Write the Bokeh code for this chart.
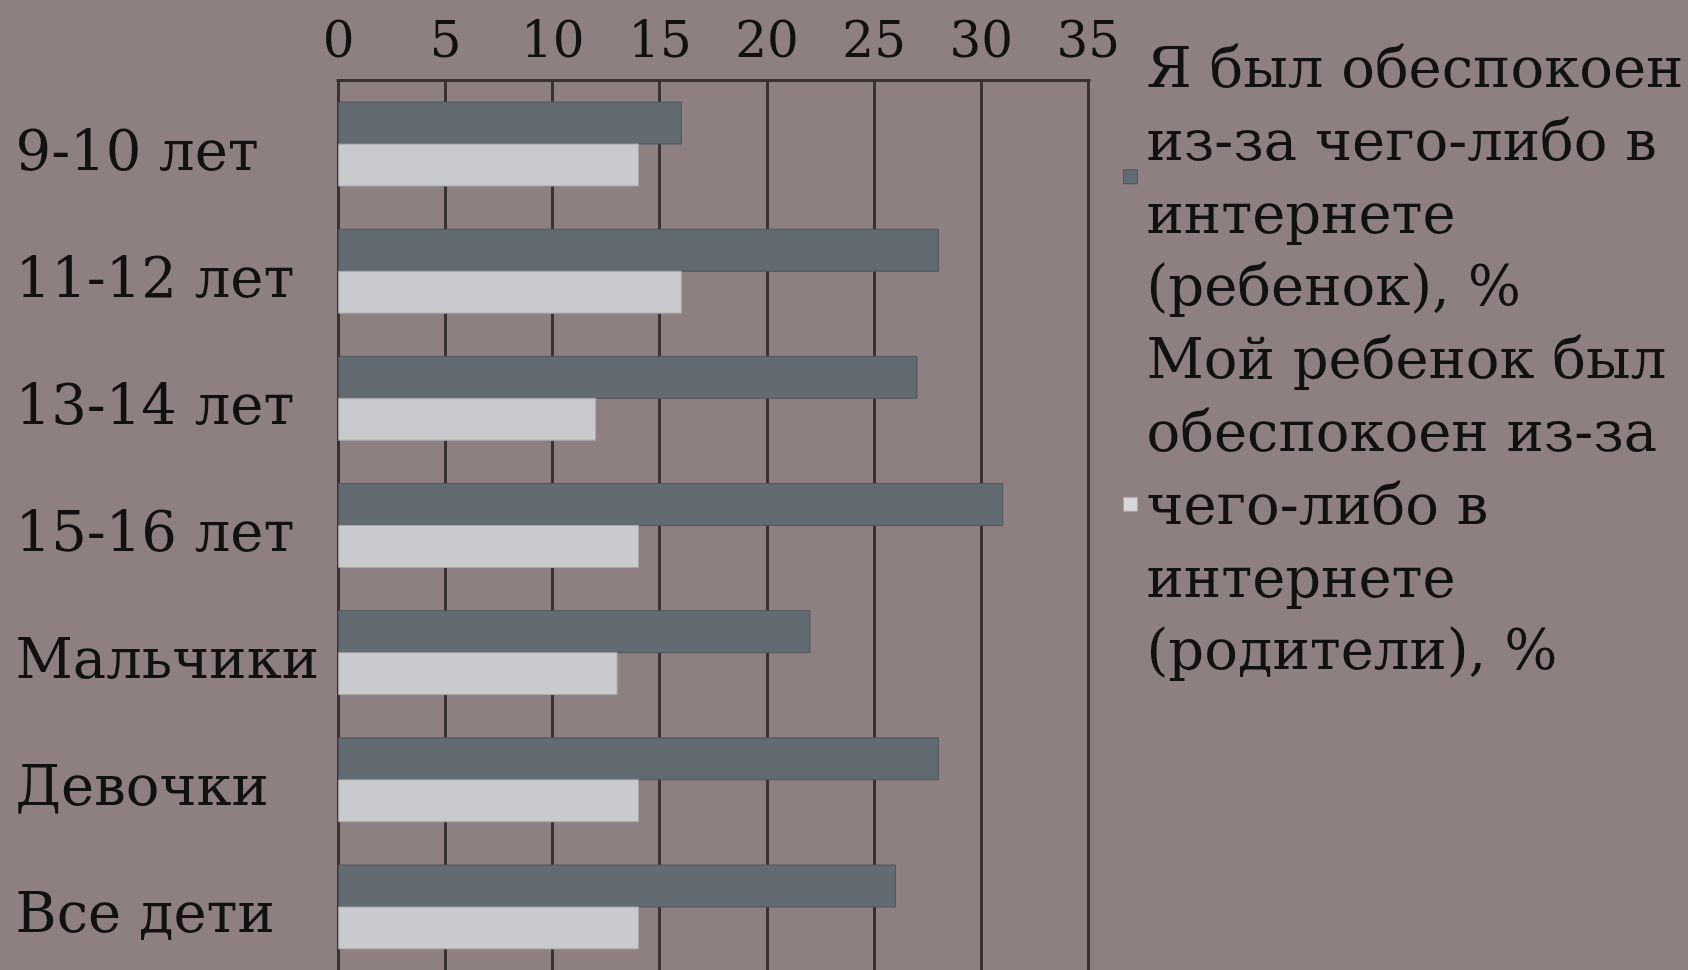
from bokeh.plotting import figure
from bokeh.layouts import row
from bokeh.models import ColumnDataSource, Range1d, FactorRange, FixedTicker
from bokeh.transform import dodge
from bokeh.core.properties import value
from bokeh.embed import file_html
from bokeh.resources import INLINE

categories = ["9-10 лет", "11-12 лет", "13-14 лет", "15-16 лет", "Мальчики", "Девочки", "Все дети"]
child_values = [16, 28, 27, 31, 22, 28, 26]
parent_values = [14, 16, 12, 14, 13, 14, 14]
x_ticks = [0, 5, 10, 15, 20, 25, 30, 35]
series_labels = ["Я был обеспокоен\nиз-за чего-либо в\nинтернете\n(ребенок), %",
                 "Мой ребенок был\nобеспокоен из-за\nчего-либо в\nинтернете\n(родители), %"]

BG = "#8E7F80"
GRID = "#3A3232"
FONT = "DejaVu Serif"
TEXT = "#111111"
DARK = "#626A72"
DARK_LINE = "#50565C"
LIGHT = "#C9CACD"
LIGHT_LINE = "#A5A5A8"
series_fill = [DARK, "#D6D7D9"]
series_line = [DARK_LINE, LIGHT_LINE]
H = 970
TOP = 80


def style(fig):
    fig.background_fill_color = None
    fig.border_fill_color = BG
    fig.outline_line_color = None


src = ColumnDataSource(dict(cat=categories, child=child_values, parent=parent_values,
                            zero=[0] * len(categories)))
y_range = FactorRange(factors=list(reversed(categories)))

# left strip: category labels, left-aligned
lp = figure(width=320, height=H, output_backend="svg", toolbar_location=None,
            y_range=y_range, x_range=Range1d(0, 1),
            min_border_left=0, min_border_right=0, min_border_top=TOP, min_border_bottom=0)
style(lp)
lp.xaxis.visible = False
lp.yaxis.visible = False
lp.grid.visible = False
lp.text(x="zero", y="cat", text="cat", source=src, x_offset=15, y_offset=6,
        text_align="left", text_baseline="middle",
        text_font=value(FONT), text_font_size="56px", text_color=TEXT)

# main bar chart
p = figure(width=800, height=H, output_backend="svg", toolbar_location=None,
           y_range=y_range, x_range=Range1d(-0.1, 35.1), x_axis_location="above",
           min_border_left=16, min_border_right=30, min_border_top=TOP, min_border_bottom=0)
style(p)

p.hbar(y=dodge("cat", 0.165, range=p.y_range), right="child", left=0, height=0.33,
       source=src, fill_color=DARK, line_color=DARK_LINE, line_width=1)
p.hbar(y=dodge("cat", -0.165, range=p.y_range), right="parent", left=0, height=0.33,
       source=src, fill_color=LIGHT, line_color=LIGHT_LINE, line_width=1)

p.xaxis.ticker = FixedTicker(ticks=x_ticks)
p.xaxis.axis_line_color = GRID
p.xaxis.axis_line_width = 3
p.xaxis.major_tick_line_color = None
p.xaxis.minor_tick_line_color = None
p.xaxis.major_tick_out = 0
p.xaxis.major_label_standoff = 24
p.xaxis.major_label_text_font = FONT
p.xaxis.major_label_text_font_size = "50px"
p.xaxis.major_label_text_color = TEXT
p.yaxis.visible = False

p.xgrid.ticker = FixedTicker(ticks=x_ticks)
p.xgrid.grid_line_color = GRID
p.xgrid.grid_line_width = 3
p.xgrid.level = "underlay"
p.ygrid.grid_line_color = None

# right strip: legend (swatch + wrapped label per series), in pixel coordinates
LEG_FIRST = 67.0   # centre of first legend text line
LEG_STEP = 72.8    # line spacing
leg_text, leg_text_y, sw_y, sw_fill, sw_line = [], [], [], [], []
k = 0
for i, lab in enumerate(series_labels):
    lines = lab.split("\n")
    ys = [LEG_FIRST + (k + j) * LEG_STEP for j in range(len(lines))]
    leg_text += lines
    leg_text_y += ys
    sw_y.append(sum(ys) / len(ys))
    sw_fill.append(series_fill[i])
    sw_line.append(series_line[i])
    k += len(lines)

lf = figure(width=568, height=H, output_backend="svg", toolbar_location=None,
            x_range=Range1d(0, 568), y_range=Range1d(H, 0), frame_align=False,
            min_border_left=0, min_border_right=0, min_border_top=0, min_border_bottom=0)
style(lf)
lf.xaxis.visible = False
lf.yaxis.visible = False
lf.grid.visible = False
lf.scatter(x=[10] * len(sw_y), y=sw_y, marker="square", size=14,
           fill_color=sw_fill, line_color=sw_line, line_width=1)
lf.text(x=[26] * len(leg_text), y=leg_text_y, text=leg_text,
        text_align="left", text_baseline="middle",
        text_font=value(FONT), text_font_size="56px", text_color=TEXT)

layout = row(lp, p, lf, styles={"background-color": BG})
open("out.html", "w").write(file_html(layout, INLINE))
